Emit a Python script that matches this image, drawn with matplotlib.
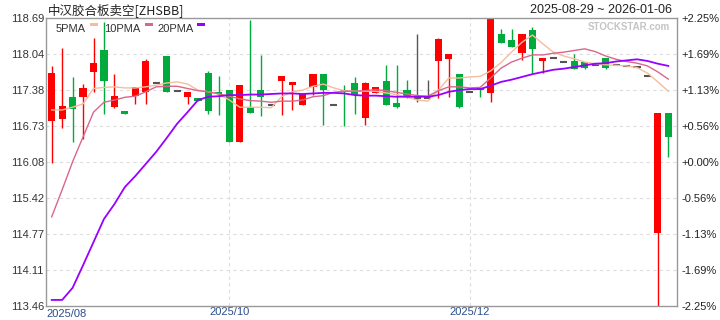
#grafico_zhsbb.py
#===========================================================================================
#Librerias
#===========================================================================================
import matplotlib
matplotlib.use('Agg')
import matplotlib.pyplot as plt
from matplotlib.patches import Rectangle
import numpy as np

#===========================================================================================
#Datos (velas diarias y medias moviles)
#===========================================================================================
apertura = [116.82, 116.85, 117.26, 117.25, 117.71, 118.11, 117.08, 117.00, 117.28, 117.35,
            117.51, 118.00, 117.37, 117.25, 117.23, 117.70, 117.35, 117.38, 116.44, 117.08,
            117.38, 117.11, 117.55, 117.47, 117.11, 117.44, 117.67, 117.11, 117.38, 117.51,
            116.88, 117.32, 117.55, 117.15, 117.38, 117.23, 117.24, 117.91, 117.95, 117.67,
            117.34, 117.41, 117.33, 118.40, 118.29, 118.05, 118.47, 117.91, 117.96, 117.90,
            117.91, 117.90, 117.84, 117.96, 117.84, 117.81, 117.80, 117.64, 114.79, 116.96]
maximo = [117.81, 118.14, 117.61, 117.49, 118.33, 118.62, 117.67, 117.00, 117.44, 117.94,
          117.51, 118.00, 117.37, 117.34, 117.23, 117.72, 117.64, 117.38, 117.47, 118.65,
          118.01, 117.11, 117.64, 117.53, 117.32, 117.67, 117.67, 117.11, 117.47, 117.61,
          117.52, 117.44, 117.84, 117.84, 117.56, 118.40, 117.56, 118.33, 118.04, 117.67,
          117.34, 117.41, 118.69, 118.49, 118.49, 118.40, 118.53, 117.96, 117.96, 117.90,
          118.04, 117.90, 117.84, 117.96, 117.84, 117.81, 117.80, 117.64, 116.96, 116.96]
minimo = [116.06, 116.69, 116.43, 116.49, 117.34, 116.95, 117.06, 116.95, 117.12, 117.12,
          117.51, 117.35, 117.37, 117.12, 117.18, 116.95, 116.92, 116.44, 116.44, 116.96,
          116.91, 117.11, 116.92, 117.02, 117.11, 117.29, 116.75, 117.11, 116.72, 116.95,
          116.75, 117.32, 117.11, 117.06, 117.23, 117.16, 117.24, 117.23, 117.26, 117.06,
          117.34, 117.26, 117.17, 118.23, 118.17, 117.93, 117.69, 117.70, 117.96, 117.90,
          117.76, 117.77, 117.84, 117.76, 117.84, 117.81, 117.80, 117.64, 113.46, 116.17]
cierre = [117.69, 117.10, 117.04, 117.42, 117.88, 117.55, 117.28, 116.95, 117.44, 117.91,
          117.51, 117.35, 117.37, 117.34, 117.18, 117.01, 117.31, 116.44, 117.47, 116.96,
          117.25, 117.11, 117.64, 117.52, 117.31, 117.67, 117.38, 117.11, 117.35, 117.29,
          117.51, 117.44, 117.11, 117.08, 117.28, 117.23, 117.24, 118.31, 118.04, 117.08,
          117.34, 117.38, 118.69, 118.23, 118.17, 118.40, 118.13, 117.96, 117.96, 117.90,
          117.76, 117.78, 117.84, 117.78, 117.84, 117.81, 117.80, 117.64, 116.96, 116.53]

ma5 = [117.02, 117.02, 117.07, 117.13, 117.41, 117.43, 117.44, 117.42, 117.42, 117.44,
       117.47, 117.51, 117.53, 117.49, 117.38, 117.35, 117.31, 117.20, 117.07, 117.07,
       117.07, 117.06, 117.26, 117.35, 117.38, 117.45, 117.49, 117.42, 117.37, 117.36,
       117.36, 117.36, 117.33, 117.30, 117.25, 117.20, 117.18, 117.38, 117.60, 117.60,
       117.62, 117.63, 117.73, 117.88, 118.07, 118.25, 118.38, 118.22, 118.07, 118.00,
       117.95, 117.89, 117.86, 117.84, 117.83, 117.82, 117.79, 117.69, 117.53, 117.36]
ma10 = [115.08, 115.57, 116.08, 116.53, 116.98, 117.16, 117.20, 117.25, 117.27, 117.35,
        117.44, 117.45, 117.45, 117.41, 117.37, 117.35, 117.31, 117.27, 117.22, 117.19,
        117.18, 117.16, 117.18, 117.18, 117.20, 117.26, 117.28, 117.34, 117.36, 117.36,
        117.37, 117.39, 117.37, 117.34, 117.31, 117.28, 117.27, 117.37, 117.44, 117.44,
        117.42, 117.43, 117.60, 117.78, 117.89, 117.96, 118.02, 118.02, 118.05, 118.07,
        118.10, 118.13, 118.08, 118.00, 117.94, 117.90, 117.87, 117.82, 117.71, 117.58]
ma20 = [113.57, 113.57, 113.79, 114.20, 114.62, 115.04, 115.31, 115.62, 115.82, 116.04,
        116.26, 116.51, 116.77, 116.98, 117.20, 117.26, 117.27, 117.29, 117.29, 117.30,
        117.30, 117.31, 117.32, 117.32, 117.31, 117.32, 117.33, 117.33, 117.32, 117.29,
        117.28, 117.28, 117.27, 117.26, 117.26, 117.26, 117.26, 117.29, 117.35, 117.38,
        117.40, 117.40, 117.46, 117.53, 117.57, 117.62, 117.67, 117.71, 117.75, 117.77,
        117.80, 117.83, 117.86, 117.87, 117.90, 117.92, 117.94, 117.91, 117.86, 117.82]

etiquetas_precio = ['113.46', '114.11', '114.77', '115.42', '116.08', '116.73', '117.38', '118.04', '118.69']
etiquetas_pct = ['-2.25%', '-1.69%', '-1.13%', '-0.56%', '+0.00%', '+0.56%', '+1.13%', '+1.69%', '+2.25%']
etiquetas_mes = ['2025/10', '2025/12']
pos_mes = [17, 40]

#===========================================================================================
#Colores
#===========================================================================================
rojo = '#ff0000'
verde = '#00aa3c'
gris = '#555555'
c_ma5 = '#f5bd9c'
c_ma10 = '#d9668b'
c_ma20 = '#9900ff'

plt.rcParams['font.family'] = ['Liberation Sans', 'DejaVu Sans']

fig = plt.figure(figsize=(7.2, 3.2), dpi=100)
ax = fig.add_axes([46/720, 14/320, 631/720, 288/320])

x = np.arange(len(cierre))
ax.set_xlim(-0.545, 59.83)
ax.set_ylim(113.46, 118.69)

#===========================================================================================
#Rejilla
#===========================================================================================
niveles = np.linspace(113.46, 118.69, 9)
for nv in niveles[1:-1]:
    ax.axhline(nv, color='#dddddd', lw=0.8, ls=(0, (3, 3)), zorder=0)
for p in pos_mes:
    ax.axvline(p, color='#dddddd', lw=0.8, ls=(0, (3, 3)), zorder=0)

#===========================================================================================
#Velas
#===========================================================================================
for i in range(len(cierre)):
    o, h, l, c = apertura[i], maximo[i], minimo[i], cierre[i]
    if c > o:
        color = rojo
    elif c < o:
        color = verde
    else:
        color = gris
    if h > l:
        ax.vlines(x[i], l, h, color=color, lw=1, zorder=2)
    if c == o:
        ax.hlines(c, x[i] - 0.34, x[i] + 0.34, color=gris, lw=1.5, zorder=2)
    else:
        ax.bar(x[i], abs(c - o), bottom=min(o, c), width=0.68, color=color, lw=0, zorder=2)

#===========================================================================================
#Medias moviles
#===========================================================================================
ax.plot(x, ma5, color=c_ma5, lw=1, zorder=3)
ax.plot(x, ma10, color=c_ma10, lw=1, zorder=3)
ax.plot(x, ma20, color=c_ma20, lw=1.3, zorder=3)

#===========================================================================================
#Ejes
#===========================================================================================
for s in ax.spines.values():
    s.set_color('#999999')
    s.set_linewidth(1)

ax.set_yticks(niveles)
ax.set_yticklabels(etiquetas_precio)
ax.tick_params(axis='y', length=0, pad=1.5, labelsize=8, labelcolor='#333333')
ax.set_xticks(pos_mes)
ax.set_xticklabels(etiquetas_mes)
ax.tick_params(axis='x', length=0, pad=1, labelsize=8, labelcolor='#2a4d8f')
ax.text(0, -0.012, '2025/08', transform=ax.transAxes, ha='left', va='top',
        fontsize=8, color='#2a4d8f')

ax2 = ax.twinx()
ax2.set_ylim(113.46, 118.69)
ax2.set_yticks(niveles)
ax2.set_yticklabels(etiquetas_pct)
ax2.tick_params(axis='y', length=0, pad=3, labelsize=8, labelcolor='#222222')
for s in ax2.spines.values():
    s.set_visible(False)

#===========================================================================================
#Titulos, leyenda y marca de agua
#===========================================================================================
fig.text(48/720, 1 - 10/320, '中汉胶合板卖空[ZHSBB]', ha='left', va='center', fontsize=9,
         color='#222222', family=['Noto Sans CJK SC', 'DejaVu Sans'])
fig.text(672/720, 1 - 10/320, '2025-08-29 ~ 2026-01-06', ha='right', va='center',
         fontsize=9, color='#222222')

ax.text(0.989, 0.969, 'STOCKSTAR.com', transform=ax.transAxes, ha='right', va='center',
        fontsize=7, fontweight='bold', color='#c4c4c4', zorder=1)

leyenda = [('5PMA', 56, 90, c_ma5), ('10PMA', 104, 145, c_ma10), ('20PMA', 157, 197, c_ma20)]
for nombre, xt, xs, col in leyenda:
    fig.text(xt/720, 1 - 28.5/320, nombre, ha='left', va='center', fontsize=8, color='#333333')
    fig.add_artist(Rectangle((xs/720, 1 - 26/320), 8/720, 3/320, transform=fig.transFigure,
                             color=col, lw=0))

fig.savefig('out.png', dpi=100)
